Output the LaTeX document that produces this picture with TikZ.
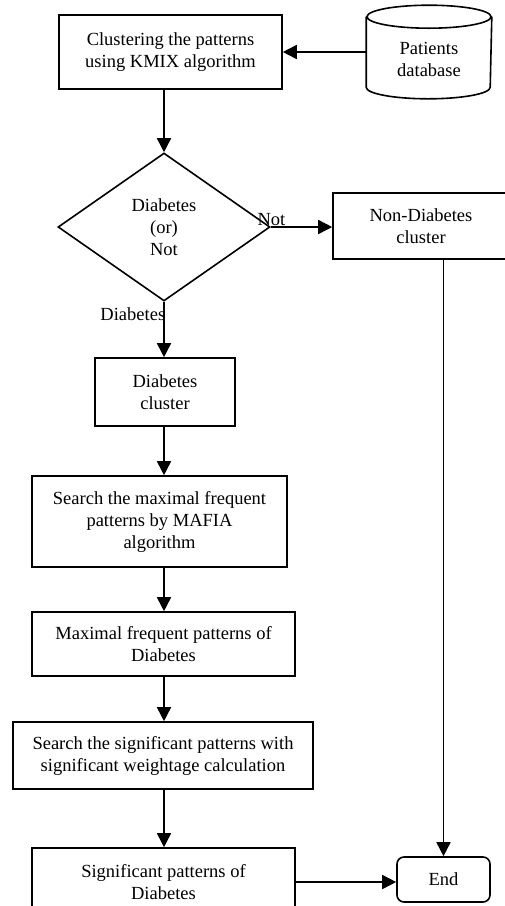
\documentclass[tikz,border=0pt]{standalone}
\usepackage{fontspec}
\setmainfont{Liberation Serif}
\usetikzlibrary{arrows.meta,shapes.geometric}
\begin{document}
\begin{tikzpicture}[x=1pt,y=-1pt,line width=1.6pt,
	box/.style={draw,rectangle,align=center,inner sep=2pt},
	arr/.style={-{Triangle[length=14pt,width=14pt]}},
	every node/.style={font=\fontsize{18.5}{22}\selectfont}]
		\clip (0,0) rectangle (505,906);
		% boxes of the main flow
		\node [box,minimum width=223pt,minimum height=74pt] (cluster) at (170.5,52) {Clustering the patterns\\using KMIX algorithm};
		\node [minimum width=124pt,minimum height=92pt,inner sep=0pt] (db) at (429,52) {};
		\node [align=center] (dbtext) at ([yshift=-7pt]db.center) {Patients\\database};
		\draw ([yshift=-11.5pt]db.north) ellipse [x radius=62pt,y radius=11.5pt];
		\draw ([yshift=-11.5pt]db.north west) -- ([yshift=11.5pt]db.south west)
			arc [start angle=180,end angle=360,x radius=62pt,y radius=11.5pt] -- ([yshift=-11.5pt]db.north east);
		\node [draw,diamond,minimum width=212pt,minimum height=148pt,inner sep=0pt,align=center] (dia) at (164,227) {Diabetes\\(or)\\Not};
		\node [box,minimum width=176pt,minimum height=66pt] (nondb) at (421,226) {Non-Diabetes\\cluster};
		\node [box,minimum width=140pt,minimum height=68pt] (dcl) at (165,392) {Diabetes\\cluster};
		\node [box,minimum width=255pt,minimum height=91pt] (mafia) at (159.5,521.5) {Search the maximal frequent\\patterns by MAFIA\\algorithm};
		\node [box,minimum width=263pt,minimum height=64pt] (maxf) at (163.5,644) {Maximal frequent patterns of\\Diabetes};
		\node [box,minimum width=300pt,minimum height=67pt] (sig) at (163,755.5) {Search the significant patterns with\\significant weightage calculation};
		\node [box,minimum width=263pt,minimum height=68pt] (sigp) at (163.5,882) {Significant patterns of\\Diabetes};
		\node [box,rounded corners=7pt,minimum width=93pt,minimum height=45pt] (end) at (443.5,879.5) {End};
		% branch labels
		\node [anchor=south west,inner sep=1pt] (lnot) at ([xshift=-15pt]dia.east) {Not};
		\node [anchor=north east,inner sep=1pt] (ldia) at ([xshift=3pt,yshift=-4pt]dia.south) {Diabetes};
		% connectors
		\draw [arr] (db.west) -- (db.west -| cluster.east);
		\draw [arr] (cluster.south -| dia.north) -- (dia.north);
		\draw [arr] (dia.east) -- (dia.east -| nondb.west);
		\draw [arr] (dia.south) -- (dia.south |- dcl.north);
		\draw [arr] (dcl.south -| dia.south) -- (mafia.north -| dia.south);
		\draw [arr] (mafia.south -| dia.south) -- (maxf.north -| dia.south);
		\draw [arr] (maxf.south -| dia.south) -- (sig.north -| dia.south);
		\draw [arr] (sig.south -| dia.south) -- (sigp.north -| dia.south);
		\draw [arr] (nondb.south -| end.north) -- (end.north);
		\draw [arr] (sigp.east) -- (sigp.east -| end.west);
\end{tikzpicture}
\end{document}
